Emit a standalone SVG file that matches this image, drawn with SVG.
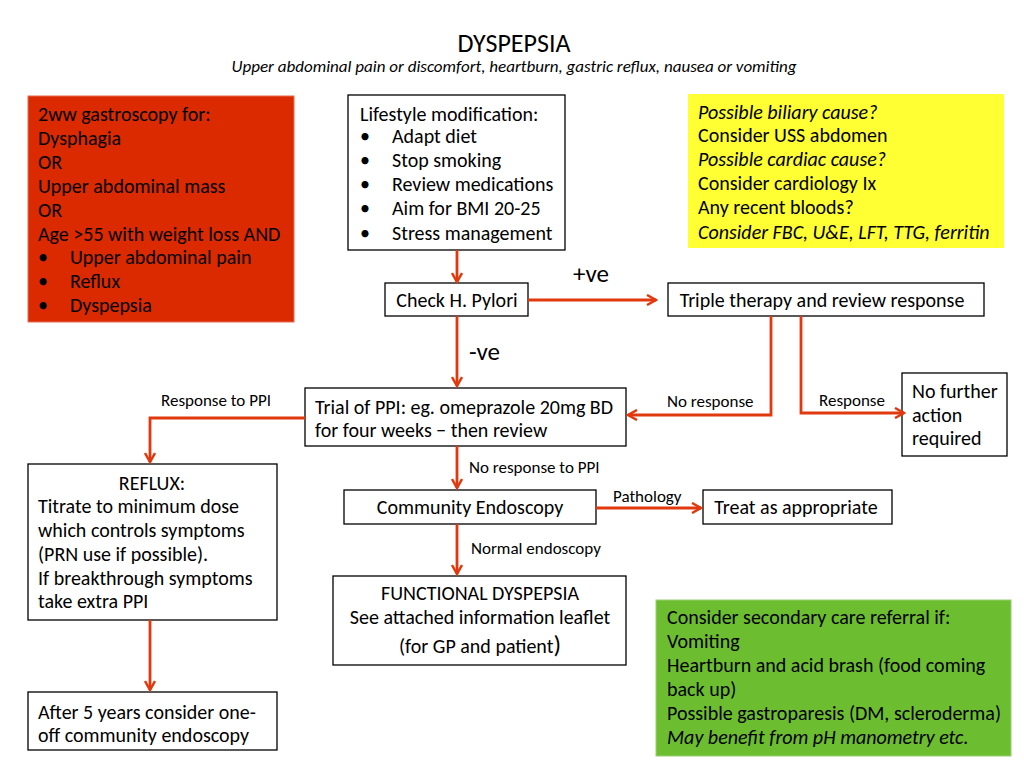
<svg xmlns="http://www.w3.org/2000/svg" width="1024" height="768" viewBox="0 0 1024 768">
<defs>
<marker id="ah" viewBox="0 0 12 12" refX="10" refY="6" markerWidth="12" markerHeight="12" markerUnits="userSpaceOnUse" orient="auto">
<path d="M1,1 L10,6 L1,11" fill="none" stroke="#E2380E" stroke-width="2.5" stroke-linejoin="miter"/>
</marker>
<style>
text{font-family:Carlito,Lato,"Liberation Sans",sans-serif;fill:#000;}
.t{font-size:20px;}
.s{font-size:17px;}
.i{font-style:italic;}
.box{fill:#fff;stroke:#000;stroke-width:1.3;}
.c{stroke:#E2380E;stroke-width:2.8;fill:none;marker-end:url(#ah);}
</style>
</defs>
<rect width="1024" height="768" fill="#fff"/>
<g id="title">
<text x="514" y="52" text-anchor="middle" style="font-size:26px">DYSPEPSIA</text>
<text x="514" y="72" text-anchor="middle" class="i" style="font-size:17px">Upper abdominal pain or discomfort, heartburn, gastric reflux, nausea or vomiting</text>
</g>
<g id="red">
<rect x="28" y="96" width="266" height="226" fill="#DC2A00" stroke="#E86A50" stroke-width="1"/>
<text class="t" x="38" y="121">2ww gastroscopy for:</text>
<text class="t" x="38" y="145">Dysphagia</text>
<text class="t" x="38" y="169">OR</text>
<text class="t" x="38" y="193">Upper abdominal mass</text>
<text class="t" x="38" y="217">OR</text>
<text class="t" x="38" y="241">Age &gt;55 with weight loss AND</text>
<text class="t" x="38" y="264">•</text><text class="t" x="70" y="264">Upper abdominal pain</text>
<text class="t" x="38" y="288">•</text><text class="t" x="70" y="288">Reflux</text>
<text class="t" x="38" y="312">•</text><text class="t" x="70" y="312">Dyspepsia</text>
</g>
<g id="lifestyle">
<rect class="box" x="348" y="95" width="217" height="155"/>
<text class="t" x="360" y="121">Lifestyle modification:</text>
<text class="t" x="360" y="143">•</text><text class="t" x="392" y="143">Adapt diet</text>
<text class="t" x="360" y="167">•</text><text class="t" x="392" y="167">Stop smoking</text>
<text class="t" x="360" y="191">•</text><text class="t" x="392" y="191">Review medications</text>
<text class="t" x="360" y="215">•</text><text class="t" x="392" y="215">Aim for BMI 20-25</text>
<text class="t" x="360" y="240">•</text><text class="t" x="392" y="240">Stress management</text>
</g>
<g id="yellow">
<rect x="688" y="94" width="316" height="154" fill="#FFFF33"/>
<text class="t i" x="698" y="119">Possible biliary cause?</text>
<text class="t" x="698" y="142">Consider USS abdomen</text>
<text class="t i" x="698" y="166">Possible cardiac cause?</text>
<text class="t" x="698" y="190">Consider cardiology Ix</text>
<text class="t" x="698" y="214">Any recent bloods?</text>
<text class="t i" x="698" y="239">Consider FBC, U&amp;E, LFT, TTG, ferritin</text>
</g>
<g id="hpylori">
<rect class="box" x="385" y="283" width="143" height="33"/>
<text class="t" x="457" y="307" text-anchor="middle">Check H. Pylori</text>
</g>
<g id="triple">
<rect class="box" x="668" y="283" width="316" height="33"/>
<text class="t" x="822" y="307" text-anchor="middle">Triple therapy and review response</text>
</g>
<g id="ppi">
<rect class="box" x="305" y="388" width="321" height="58"/>
<text class="t" x="315" y="414">Trial of PPI: eg. omeprazole 20mg BD</text>
<text class="t" x="315" y="437">for four weeks − then review</text>
</g>
<g id="nofurther">
<rect class="box" x="902" y="373" width="105" height="83"/>
<text class="t" x="912" y="398">No further</text>
<text class="t" x="912" y="422">action</text>
<text class="t" x="912" y="445">required</text>
</g>
<g id="reflux">
<rect class="box" x="28" y="464" width="249" height="156"/>
<text class="t" x="152" y="490" text-anchor="middle">REFLUX:</text>
<text class="t" x="38" y="513">Titrate to minimum dose</text>
<text class="t" x="38" y="537">which controls symptoms</text>
<text class="t" x="38" y="561">(PRN use if possible).</text>
<text class="t" x="38" y="585">If breakthrough symptoms</text>
<text class="t" x="38" y="608">take extra PPI</text>
</g>
<g id="after5">
<rect class="box" x="28" y="692" width="249" height="58"/>
<text class="t" x="38" y="719">After 5 years consider one-</text>
<text class="t" x="38" y="742">off community endoscopy</text>
</g>
<g id="endoscopy">
<rect class="box" x="344" y="490" width="252" height="34"/>
<text class="t" x="470" y="514" text-anchor="middle">Community Endoscopy</text>
</g>
<g id="treat">
<rect class="box" x="703" y="490" width="189" height="34"/>
<text class="t" x="796" y="514" text-anchor="middle">Treat as appropriate</text>
</g>
<g id="functional">
<rect class="box" x="333" y="576" width="293" height="89"/>
<text class="t" x="480" y="600" text-anchor="middle">FUNCTIONAL DYSPEPSIA</text>
<text class="t" x="480" y="624" text-anchor="middle">See attached information leaflet</text>
<text class="t" x="480" y="653" text-anchor="middle">(for GP and patient<tspan style="font-size:25px">)</tspan></text>
</g>
<g id="green">
<rect x="656" y="600" width="355" height="156" fill="#6DBD30" stroke="#9AD070" stroke-width="1"/>
<text class="t" x="667" y="624">Consider secondary care referral if:</text>
<text class="t" x="667" y="648">Vomiting</text>
<text class="t" x="667" y="672">Heartburn and acid brash (food coming</text>
<text class="t" x="667" y="696">back up)</text>
<text class="t" x="667" y="720">Possible gastroparesis (DM, scleroderma)</text>
<text class="t i" x="667" y="744">May benefit from pH manometry etc.</text>
</g>
<g id="connectors">
<path class="c" d="M457,250 V282"/>
<path class="c" d="M528,300 H656"/>
<path class="c" d="M457,316 V386"/>
<path class="c" d="M771,316 V415 H628"/>
<path class="c" d="M801,316 V413 H904"/>
<path class="c" d="M305,418 H150 V462"/>
<path class="c" d="M150,620 V690"/>
<path class="c" d="M457,446 V488"/>
<path class="c" d="M596,508 H701"/>
<path class="c" d="M457,524 V574"/>
<text x="573" y="282" style="font-size:25px">+ve</text>
<text x="469" y="360" style="font-size:25px">-ve</text>
<text class="s" x="667" y="407">No response</text>
<text class="s" x="819" y="406">Response</text>
<text class="s" x="161" y="406">Response to PPI</text>
<text class="s" x="469" y="473">No response to PPI</text>
<text class="s" x="613" y="502">Pathology</text>
<text class="s" x="471" y="554">Normal endoscopy</text>
</g>
</svg>
